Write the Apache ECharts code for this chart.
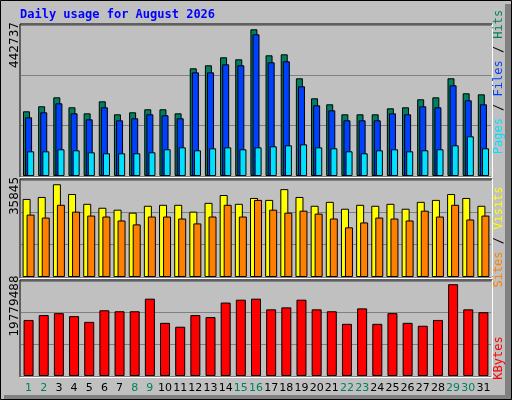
<!DOCTYPE html>
<html><head><meta charset="utf-8">
<script src="https://cdn.jsdelivr.net/npm/echarts@6/dist/echarts.min.js"></script>
<style>html,body{margin:0;padding:0;background:#c0c0c0}#c{width:512px;height:400px}</style>
</head><body><div id="c"></div>
<script>
const days = ['1','2','3','4','5','6','7','8','9','10','11','12','13','14','15','16','17','18','19','20','21','22','23','24','25','26','27','28','29','30','31'];
const weekend = ['1','2','8','9','15','16','22','23','29','30'];
const hits = [189700,204400,230700,201400,183800,219000,180900,186800,195600,195600,183800,315800,324600,348000,342200,430100,353900,356800,286500,227800,210200,180900,180900,180900,198500,201400,224900,230700,286500,242500,239500];
const files = [172100,186800,213200,183800,166200,201400,163300,169200,180900,178000,169200,304000,304000,327500,324600,415500,333400,336300,263000,207300,192600,163300,163300,163300,183800,180900,204400,201400,265900,222000,210200];
const pages = [72400,72400,78300,75400,69500,66600,66600,66600,69500,78300,84100,75400,81200,84100,78300,84100,87100,90000,92900,84100,81200,72400,66600,75400,78300,72400,75400,78300,90000,116400,81200];
const visits = [28850,29580,34280,30660,27040,25590,24870,23780,26320,26680,26680,24150,27400,30300,27040,29210,28490,32470,29580,26320,27770,25230,26680,26320,27040,25230,27770,28490,30660,29210,26320];
const sites = [23060,21970,26680,24150,22700,22340,20890,19440,22340,22340,21610,19800,22340,26680,22340,28490,24870,23780,24510,23420,21610,18350,20160,21970,21610,20890,24510,22340,26680,21250,22700];
const kbytes = [11670000,12680000,13080000,12470000,11270000,13680000,13480000,13480000,16100000,11070000,10260000,12680000,12270000,15290000,15890000,16100000,13880000,14290000,15890000,13880000,13480000,10860000,14080000,10860000,13080000,11070000,10460000,11670000,19110000,13880000,13280000];
const maxHits = 442737, maxVisits = 35845, maxKB = 19779488;

const grids = [
  {left:21, top:25, width:470, height:151},
  {left:21, top:180, width:470, height:97},
  {left:21, top:281, width:470, height:95}
];
const maxes = [maxHits, maxVisits, maxKB];
const chart = echarts.init(document.getElementById('c'));
const bs = {borderColor:'#000', borderWidth:1};
function mkY(i){return {gridIndex:i, type:'value', min:0, max:maxes[i], interval:maxes[i]/3,
  axisLabel:{show:false}, axisLine:{show:false}, axisTick:{show:false},
  splitLine:{show:true, lineStyle:{color:'#808080', width:1}}};}
function mkX(i){return {gridIndex:i, type:'category', data:days, axisTick:{show:false}, axisLine:{show:false},
  axisLabel: i===2 ? {show:true, margin:7, fontSize:11, fontFamily:'DejaVu Sans', interval:0,
     formatter:v=> weekend.includes(v)?'{g|'+v+'}':'{b|'+v+'}',
     rich:{g:{color:'#008060',fontSize:11,fontFamily:'DejaVu Sans'},b:{color:'#000',fontSize:11,fontFamily:'DejaVu Sans'}}} : {show:false}};}
function frame(g){
  const x=g.left,y=g.top,w=g.width,h=g.height;
  return [
    {type:'line',shape:{x1:x-1,y1:y-1,x2:x+w+1,y2:y-1},style:{stroke:'#000',lineWidth:1},z:100},
    {type:'line',shape:{x1:x-1,y1:y-1,x2:x-1,y2:y+h+1},style:{stroke:'#000',lineWidth:1},z:100},
    {type:'line',shape:{x1:x-1,y1:y+h+1.5,x2:x+w+1,y2:y+h+1.5},style:{stroke:'#fff',lineWidth:1},z:100},
    {type:'line',shape:{x1:x+w+1.5,y1:y-1,x2:x+w+1.5,y2:y+h+1.5},style:{stroke:'#fff',lineWidth:1},z:100}
  ];
}
const vt = (txt,x,y,fill)=>({type:'text',x:x,y:y,rotation:Math.PI/2,style:{text:txt,fill:fill||'#000',font:'12px "DejaVu Sans"',align:'center',verticalAlign:'middle'},z:100});
const mono = '12px "DejaVu Sans Mono"';
const rl = (parts,x,y)=>({type:'text',x:x,y:y,rotation:Math.PI/2,style:{text:parts.map(p=>'{'+p[1]+'|'+p[0]+'}').join(''),align:'center',verticalAlign:'middle',
  rich:{a:{fill:'#00e0ff',font:mono},b:{fill:'#0040ff',font:mono},c:{fill:'#008060',font:mono},k:{fill:'#000',font:mono},y:{fill:'#ffff00',font:mono},o:{fill:'#ff8000',font:mono},r:{fill:'#ff0000',font:mono}}},z:100});

chart.setOption({
  animation:false,
  backgroundColor:'#c0c0c0',
  grid:grids,
  xAxis:[mkX(0),mkX(1),mkX(2)],
  yAxis:[mkY(0),mkY(1),mkY(2)],
  series:[
    {type:'bar',xAxisIndex:0,yAxisIndex:0,data:hits,barWidth:7,barGap:'-70%',itemStyle:Object.assign({color:'#008060'},bs)},
    {type:'bar',xAxisIndex:0,yAxisIndex:0,data:files,barWidth:7,barGap:'-70%',itemStyle:Object.assign({color:'#0040ff'},bs)},
    {type:'bar',xAxisIndex:0,yAxisIndex:0,data:pages,barWidth:7,barGap:'-70%',itemStyle:Object.assign({color:'#00e0ff'},bs)},
    {type:'bar',xAxisIndex:1,yAxisIndex:1,data:visits,barWidth:8,barGap:'-50%',itemStyle:Object.assign({color:'#ffff00'},bs)},
    {type:'bar',xAxisIndex:1,yAxisIndex:1,data:sites,barWidth:8,barGap:'-50%',itemStyle:Object.assign({color:'#ff8000'},bs)},
    {type:'bar',xAxisIndex:2,yAxisIndex:2,data:kbytes,barWidth:10,itemStyle:Object.assign({color:'#ff0000'},bs)}
  ],
  graphic:[
    {type:'rect',shape:{x:505,y:4,width:7,height:396},style:{fill:'#808080'},z:0},
    {type:'rect',shape:{x:4,y:395,width:508,height:5},style:{fill:'#808080'},z:0},
    {type:'rect',shape:{x:0.5,y:0.5,width:511,height:399},style:{fill:'none',stroke:'#000',lineWidth:1},z:101},
    {type:'text',x:20,y:15,style:{text:'Daily usage for August 2026',fill:'#0000ff',font:'bold 12px "DejaVu Sans Mono"',verticalAlign:'middle'},z:100},
    ...frame(grids[0]),...frame(grids[1]),...frame(grids[2]),
    vt(String(maxHits),15,45),vt(String(maxVisits),15,196),vt(String(maxKB),15,306),
    rl([['Pages','a'],[' / ','k'],['Files','b'],[' / ','k'],['Hits','c']],499,82),
    rl([['Sites','o'],[' / ','k'],['Visits','y']],499,237),
    rl([['KBytes','r']],499,358)
  ]
});
</script></body></html>
